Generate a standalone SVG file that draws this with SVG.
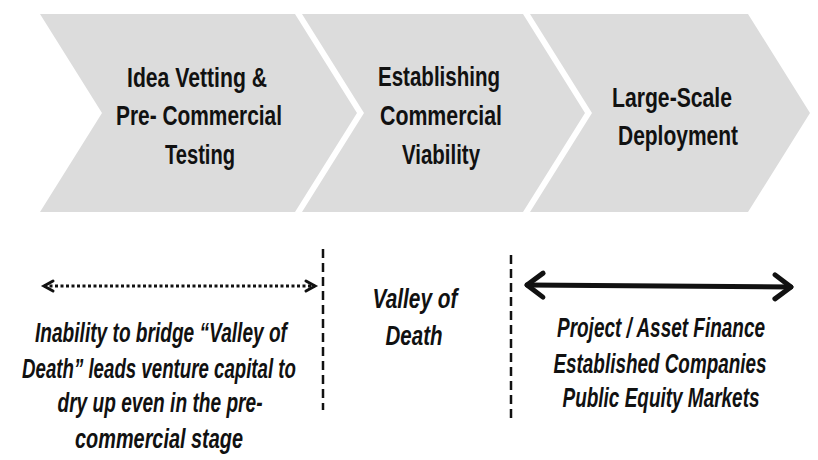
<svg xmlns="http://www.w3.org/2000/svg" width="818" height="460" viewBox="0 0 818 460">
  <defs>
    <style>
      .chev { fill: #dcdcdc; stroke: none; }
      .title { font-family: "Liberation Sans", "Arial", sans-serif; font-weight: bold; font-size: 28px; fill: #111; text-anchor: middle; }
      .note { font-family: "Liberation Sans", "Arial", sans-serif; font-weight: bold; font-style: italic; font-size: 27px; fill: #111; text-anchor: middle; }
      .divider { stroke: #111; stroke-width: 2.5; stroke-dasharray: 9 5; fill: none; }
      .dotted { stroke: #111; stroke-width: 3; stroke-dasharray: 3 2.5; fill: none; }
      .solid { stroke: #111; stroke-width: 5; stroke-linecap: round; fill: none; }
    </style>
    <marker id="headSmall" markerUnits="userSpaceOnUse" orient="auto-start-reverse" refX="0" refY="0" overflow="visible">
      <path d="M-9,-5 L0,0 L-9,5" fill="none" stroke="#111" stroke-width="3" stroke-linecap="round" stroke-linejoin="miter"/>
    </marker>
    <marker id="headBig" markerUnits="userSpaceOnUse" orient="auto-start-reverse" refX="0" refY="0" overflow="visible">
      <path d="M-16,-12 L0,0 L-16,12" fill="none" stroke="#111" stroke-width="5" stroke-linecap="round" stroke-linejoin="round"/>
    </marker>
  </defs>
  <rect width="818" height="460" fill="#ffffff"/>

  <g id="stage-idea">
    <polygon class="chev" points="40,14 295,14 357,113 295,212 40,212 102,113"/>
    <text class="title" x="0" y="87" transform="translate(197 0) scale(0.82 1)" textLength="170.7" lengthAdjust="spacingAndGlyphs">Idea Vetting &amp;</text>
    <text class="title" x="0" y="125" transform="translate(199 0) scale(0.82 1)" textLength="202.4" lengthAdjust="spacingAndGlyphs">Pre- Commercial</text>
    <text class="title" x="0" y="164" transform="translate(200 0) scale(0.82 1)" textLength="85.4" lengthAdjust="spacingAndGlyphs">Testing</text>
  </g>

  <g id="stage-viability">
    <polygon class="chev" points="302,14 523,14 585,113 523,212 302,212 364,113"/>
    <text class="title" x="0" y="86" transform="translate(439 0) scale(0.82 1)" textLength="148.8" lengthAdjust="spacingAndGlyphs">Establishing</text>
    <text class="title" x="0" y="125" transform="translate(441 0) scale(0.82 1)" textLength="148.8" lengthAdjust="spacingAndGlyphs">Commercial</text>
    <text class="title" x="0" y="164" transform="translate(441 0) scale(0.82 1)" textLength="95.1" lengthAdjust="spacingAndGlyphs">Viability</text>
  </g>

  <g id="stage-deployment">
    <polygon class="chev" points="530,14 748,14 810,113 748,212 530,212 592,113"/>
    <text class="title" x="0" y="107" transform="translate(672 0) scale(0.82 1)" textLength="146.3" lengthAdjust="spacingAndGlyphs">Large-Scale</text>
    <text class="title" x="0" y="145" transform="translate(678 0) scale(0.82 1)" textLength="146.3" lengthAdjust="spacingAndGlyphs">Deployment</text>
  </g>

  <g id="connectors">
    <line class="dotted" x1="44" y1="286" x2="315" y2="286" marker-start="url(#headSmall)" marker-end="url(#headSmall)"/>
    <line class="divider" x1="323" y1="249" x2="323" y2="410"/>
    <line class="divider" x1="511" y1="255" x2="511" y2="418"/>
    <line class="solid" x1="527" y1="285" x2="791" y2="287" marker-start="url(#headBig)" marker-end="url(#headBig)"/>
  </g>

  <g id="note-early">
    <text class="note" x="0" y="342" transform="translate(161 0) scale(0.82 1)" textLength="307.3" lengthAdjust="spacingAndGlyphs">Inability to bridge “Valley of</text>
    <text class="note" x="0" y="378" transform="translate(159 0) scale(0.82 1)" textLength="334.1" lengthAdjust="spacingAndGlyphs">Death” leads venture capital to</text>
    <text class="note" x="0" y="412" transform="translate(160 0) scale(0.82 1)" textLength="250" lengthAdjust="spacingAndGlyphs">dry up even in the pre-</text>
    <text class="note" x="0" y="448" transform="translate(159 0) scale(0.82 1)" textLength="204.9" lengthAdjust="spacingAndGlyphs">commercial stage</text>
  </g>

  <g id="note-valley">
    <text class="note" x="0" y="308" transform="translate(415 0) scale(0.82 1)" textLength="103.7" lengthAdjust="spacingAndGlyphs">Valley of</text>
    <text class="note" x="0" y="345" transform="translate(414 0) scale(0.82 1)" textLength="69.5" lengthAdjust="spacingAndGlyphs">Death</text>
  </g>

  <g id="note-late">
    <text class="note" x="0" y="337" transform="translate(661 0) scale(0.82 1)" textLength="253.7" lengthAdjust="spacingAndGlyphs">Project / Asset Finance</text>
    <text class="note" x="0" y="373" transform="translate(660 0) scale(0.82 1)" textLength="259.8" lengthAdjust="spacingAndGlyphs">Established Companies</text>
    <text class="note" x="0" y="407" transform="translate(661 0) scale(0.82 1)" textLength="240.2" lengthAdjust="spacingAndGlyphs">Public Equity Markets</text>
  </g>
</svg>
